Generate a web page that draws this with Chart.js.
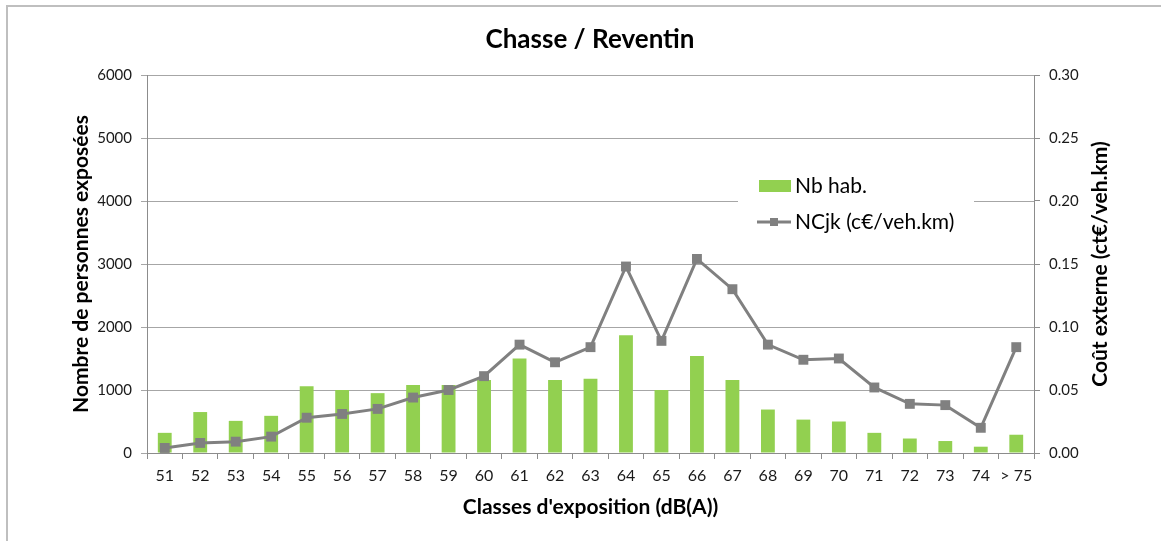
<!DOCTYPE html>
<html>
<head>
<meta charset="utf-8">
<title>Chasse / Reventin</title>
<script src="https://cdn.jsdelivr.net/npm/chart.js@4/dist/chart.umd.min.js"></script>
<style>
  html, body { margin: 0; padding: 0; background: #fff; }
  #wrap { position: relative; width: 1161px; height: 541px; }
  #frame {
    position: absolute; left: 6px; top: 5px; right: 0; bottom: 0;
    border-top: 2px solid #bfbfbf; border-left: 2px solid #bfbfbf;
    pointer-events: none;
  }
</style>
</head>
<body>
<div id="wrap">
  <canvas id="chart" width="1161" height="541"></canvas>
  <div id="frame"></div>
</div>
<script>
const classes = ['51', '52', '53', '54', '55', '56', '57', '58', '59', '60', '61', '62', '63',
                 '64', '65', '66', '67', '68', '69', '70', '71', '72', '73', '74', '> 75'];
const nbHab = [320, 650, 510, 590, 1060, 1000, 950, 1080, 1080, 1160, 1500, 1160, 1180,
               1870, 1000, 1540, 1160, 690, 530, 500, 320, 230, 190, 100, 290];
const ncjk = [0.004, 0.008, 0.009, 0.013, 0.028, 0.031, 0.035, 0.044, 0.050, 0.061, 0.086, 0.072, 0.084,
              0.148, 0.089, 0.154, 0.130, 0.086, 0.074, 0.075, 0.052, 0.039, 0.038, 0.020, 0.084];
const leftTicks = [0, 1000, 2000, 3000, 4000, 5000, 6000];
const rightTicks = [0, 0.05, 0.10, 0.15, 0.20, 0.25, 0.30];

const FONT = 'Lato, "Open Sans", sans-serif';
const GREEN = '#92d050';
const GREY = '#808080';
const AXIS = '#8c8c8c';
const TEXT = '#1a1a1a';

// chart title and the right-hand axis title (read bottom to top, like the left one)
const extraText = {
  id: 'extraText',
  afterDraw(chart) {
    const ctx = chart.ctx;
    ctx.save();
    ctx.fillStyle = '#000';
    ctx.textAlign = 'center';
    ctx.textBaseline = 'middle';
    ctx.font = 'bold 26px ' + FONT;
    ctx.fillText('Chasse / Reventin', 590, 40);

    ctx.translate(1100, 264);
    ctx.rotate(-Math.PI / 2);
    ctx.font = 'bold 21px ' + FONT;
    ctx.fillText('Coût externe (ct€/veh.km)', 0, 0);
    ctx.restore();
  }
};

// legend sits inside the plot, on a white box that hides the grid line
const innerLegend = {
  id: 'innerLegend',
  afterDraw(chart) {
    const ctx = chart.ctx;
    const [bars, line] = chart.data.datasets;
    ctx.save();
    ctx.fillStyle = '#fff';
    ctx.fillRect(738, 168, 236, 72);

    ctx.fillStyle = bars.backgroundColor;
    ctx.fillRect(759, 180, 32, 12);

    ctx.strokeStyle = line.borderColor;
    ctx.lineWidth = 3;
    ctx.beginPath();
    ctx.moveTo(757, 222);
    ctx.lineTo(791, 222);
    ctx.stroke();
    ctx.fillStyle = line.pointBackgroundColor;
    ctx.fillRect(770, 218, 8, 8);

    ctx.fillStyle = '#000';
    ctx.font = '21px ' + FONT;
    ctx.textAlign = 'left';
    ctx.textBaseline = 'middle';
    ctx.fillText(bars.label, 795, 186);
    ctx.fillText(line.label, 795, 222);
    ctx.restore();
  }
};

new Chart(document.getElementById('chart'), {
  data: {
    labels: classes,
    datasets: [
      {
        type: 'bar',
        label: 'Nb hab.',
        data: nbHab,
        yAxisID: 'y',
        backgroundColor: GREEN,
        borderWidth: 0,
        categoryPercentage: 1,
        barPercentage: 0.39,
        order: 2
      },
      {
        type: 'line',
        label: 'NCjk (c€/veh.km)',
        data: ncjk,
        yAxisID: 'y1',
        borderColor: GREY,
        borderWidth: 3,
        pointStyle: 'rect',
        pointRadius: 7,
        pointBackgroundColor: GREY,
        pointBorderWidth: 0,
        tension: 0,
        order: 1
      }
    ]
  },
  options: {
    responsive: false,
    animation: false,
    layout: { padding: { top: 75, left: 62, right: 40, bottom: 21 } },
    plugins: {
      legend: { display: false },
      title: { display: false },
      tooltip: { enabled: false }
    },
    scales: {
      x: {
        offset: true,
        grid: { offset: true, drawOnChartArea: false, drawTicks: true, tickLength: 6, color: AXIS },
        border: { color: AXIS, width: 1 },
        ticks: { color: TEXT, font: { family: FONT, size: 16 }, padding: 7, maxRotation: 0, autoSkip: false },
        title: {
          display: true, text: "Classes d'exposition (dB(A))",
          color: '#000', font: { family: FONT, size: 21, weight: 'bold' }, padding: { top: 4, bottom: 0 }
        },
        afterFit(s) { s.height = 67; }
      },
      y: {
        position: 'left',
        min: 0, max: 6000,
        afterBuildTicks(s) { s.ticks = leftTicks.map(v => ({ value: v })); },
        grid: { color: '#a6a6a6', tickLength: 6 },
        border: { color: AXIS, width: 1 },
        ticks: { color: TEXT, font: { family: FONT, size: 15 }, padding: 9, callback: v => String(v) },
        title: {
          display: true, text: 'Nombre de personnes exposées',
          color: '#000', font: { family: FONT, size: 21, weight: 'bold' }, padding: { top: 7, bottom: 0 }
        },
        afterFit(s) { s.width = 85; }
      },
      y1: {
        position: 'right',
        min: 0, max: 0.3,
        afterBuildTicks(s) { s.ticks = rightTicks.map(v => ({ value: v })); },
        grid: { drawOnChartArea: false, color: AXIS, tickLength: 6 },
        border: { color: AXIS, width: 1 },
        ticks: { color: TEXT, font: { family: FONT, size: 15 }, padding: 9, callback: v => v.toFixed(2) },
        title: { display: false },
        afterFit(s) { s.width = 87; }
      }
    }
  },
  plugins: [innerLegend, extraText]
});
</script>
</body>
</html>
